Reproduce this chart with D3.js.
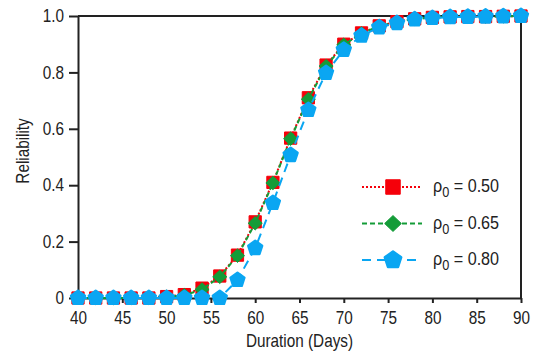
<!DOCTYPE html>
<html>
<head>
<meta charset="utf-8">
<script src="https://cdnjs.cloudflare.com/ajax/libs/d3/7.8.5/d3.min.js"></script>
<style>
body { margin: 0; background: #fff; }
svg text { font-family: "Liberation Sans", Arial, sans-serif; fill: #222; transform-box: fill-box; }
</style>
</head>
<body>
<div id="chart"></div>
<script>
// durations (days) and reliability per rho0
var days = [40, 42, 44, 46, 48, 50, 52, 54, 56, 58, 60, 62, 64, 66, 68, 70, 72, 74, 76, 78, 80, 82, 84, 86, 88, 90];
var rel050 = [0, 0, 0, 0, 0, 0.005, 0.012, 0.035, 0.078, 0.152, 0.27, 0.41, 0.567, 0.71, 0.826, 0.9, 0.94, 0.965, 0.98, 0.99, 0.995, 0.997, 0.998, 0.998, 0.999, 1.0];
var rel065 = [0, 0, 0, 0, 0, 0.004, 0.01, 0.03, 0.075, 0.15, 0.265, 0.408, 0.565, 0.705, 0.822, 0.898, 0.938, 0.964, 0.979, 0.99, 0.995, 0.997, 0.998, 0.998, 0.999, 1.0];
var rel080 = [0, 0, 0, 0, 0, 0, 0, 0, 0, 0.064, 0.177, 0.337, 0.507, 0.667, 0.798, 0.88, 0.93, 0.96, 0.975, 0.988, 0.993, 0.996, 0.997, 0.998, 0.999, 1.0];
var seriesNames = ["0.50", "0.65", "0.80"];
var xTicks = [40, 45, 50, 55, 60, 65, 70, 75, 80, 85, 90];
var yTicks = [0, 0.2, 0.4, 0.6, 0.8, 1.0];
var yTickLabels = ["0", "0.2", "0.4", "0.6", "0.8", "1.0"];

var W = 537, H = 351;
var margin = {left: 78, right: 16, top: 16, bottom: 53};
var squeeze = "scaleX(0.85)";

var svg = d3.select("#chart").append("svg")
    .attr("width", W).attr("height", H);

var x = d3.scaleLinear().domain([40, 90]).range([margin.left, W - margin.right]);
var y = d3.scaleLinear().domain([0, 1]).range([H - margin.bottom, margin.top]);

/* frame: top and right borders */
svg.append("path")
    .attr("d", "M" + x(40) + "," + y(1) + "H" + x(90) + "V" + y(0))
    .attr("fill", "none").attr("stroke", "#222").attr("stroke-width", 2);

var xAxis = svg.append("g")
    .attr("transform", "translate(0," + y(0) + ")")
    .call(d3.axisBottom(x).tickValues(xTicks).tickSize(5).tickPadding(8).tickSizeOuter(0));

var yAxis = svg.append("g")
    .attr("transform", "translate(" + x(40) + ",0)")
    .call(d3.axisLeft(y).tickValues(yTicks).tickSize(9).tickPadding(5).tickSizeOuter(0)
        .tickFormat(function(d, i) { return yTickLabels[i]; }));

[xAxis, yAxis].forEach(function(a) {
    a.selectAll("path, line").attr("stroke", "#222").attr("stroke-width", 2);
    a.selectAll("text").attr("font-size", 18).attr("fill", "#222")
        .style("font-family", "'Liberation Sans', Arial, sans-serif");
});
xAxis.selectAll("text").attr("dy", "0.72em")
    .style("transform-origin", "50% 50%").style("transform", squeeze);
yAxis.selectAll("text")
    .style("transform-origin", "100% 50%").style("transform", squeeze);

svg.append("text")
    .attr("x", (x(40) + x(90)) / 2).attr("y", 347)
    .attr("text-anchor", "middle").attr("font-size", 18)
    .style("transform-origin", "50% 50%").style("transform", squeeze)
    .text("Duration (Days)");

svg.append("g")
    .attr("transform", "translate(29," + (y(0.5) - 6) + ") rotate(-90)")
    .append("text")
    .attr("text-anchor", "middle").attr("font-size", 18)
    .style("transform-origin", "50% 50%").style("transform", squeeze)
    .text("Reliability");

/* custom shapes: pentagon (blue) and square-ish diamond (green) */
var pentagon = {
    draw: function(ctx, size) {
        var r = Math.sqrt(size / 2.3776);
        for (var i = 0; i < 5; i++) {
            var a = -Math.PI / 2 + i * 2 * Math.PI / 5;
            if (i === 0) ctx.moveTo(r * Math.cos(a), r * Math.sin(a));
            else ctx.lineTo(r * Math.cos(a), r * Math.sin(a));
        }
        ctx.closePath();
    }
};
var rhomb = {
    draw: function(ctx, size) {
        var r = Math.sqrt(size / 2);
        ctx.moveTo(0, -r);
        ctx.lineTo(r * 1.05, 0);
        ctx.lineTo(0, r);
        ctx.lineTo(-r * 1.05, 0);
        ctx.closePath();
    }
};

var series = [
    {name: seriesNames[0], values: rel050, color: "#f5000a", dash: "2,2", symbol: d3.symbolSquare, size: 150, sw: 1},
    {name: seriesNames[1], values: rel065, color: "#149c38", dash: "5,3", symbol: rhomb, size: 90, sw: 1},
    {name: seriesNames[2], values: rel080, color: "#0aa6f2", dash: "9,6", symbol: pentagon, size: 125, sw: 2.5}
];

var line = d3.line()
    .x(function(d) { return x(d[0]); })
    .y(function(d) { return y(d[1]); });

series.forEach(function(s) {
    var pts = days.map(function(d, i) { return [d, s.values[i]]; });
    svg.append("path")
        .datum(pts)
        .attr("d", line)
        .attr("fill", "none")
        .attr("stroke", s.color)
        .attr("stroke-width", 2)
        .attr("stroke-dasharray", s.dash);
    svg.selectAll(null)
        .data(pts)
        .enter().append("path")
        .attr("d", d3.symbol().type(s.symbol).size(s.size))
        .attr("transform", function(d) { return "translate(" + x(d[0]) + "," + y(d[1]) + ")"; })
        .attr("fill", s.color)
        .attr("stroke", s.color)
        .attr("stroke-width", s.sw)
        .attr("stroke-linejoin", "round");
});

/* legend */
var legend = svg.append("g").attr("transform", "translate(362,187)");
series.forEach(function(s, i) {
    var g = legend.append("g").attr("transform", "translate(0," + (i * 36.5) + ")");
    g.append("line")
        .attr("x1", 0).attr("x2", 60).attr("y1", 0).attr("y2", 0)
        .attr("stroke", s.color).attr("stroke-width", 2)
        .attr("stroke-dasharray", s.dash);
    g.append("path")
        .attr("d", d3.symbol().type(s.symbol).size(s.size * 1.4))
        .attr("transform", "translate(31,0)")
        .attr("fill", s.color).attr("stroke", s.color)
        .attr("stroke-width", s.sw).attr("stroke-linejoin", "round");
    var t = g.append("text").attr("x", 71).attr("y", 5).attr("font-size", 19)
        .style("transform-origin", "0% 50%").style("transform", squeeze);
    t.append("tspan").text("ρ");
    t.append("tspan").attr("font-size", 15).attr("dy", 5).text("0");
    t.append("tspan").attr("dy", -5).text(" = " + s.name);
});
</script>
</body>
</html>
